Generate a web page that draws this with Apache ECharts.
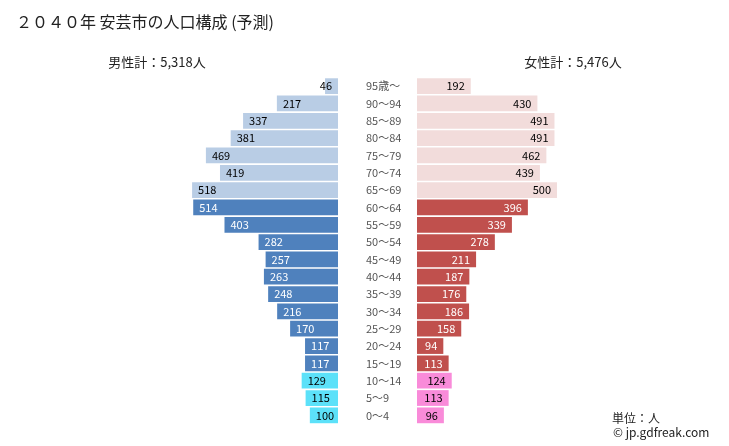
<!DOCTYPE html>
<html><head><meta charset="utf-8">
<script src="https://cdn.jsdelivr.net/npm/echarts@6/dist/echarts.min.js"></script>
<style>html,body{margin:0;padding:0;background:#fff}#c{width:729px;height:446px}</style>
</head><body><div id="c"></div>
<script>
const ages = ["95歳～","90～94","85～89","80～84","75～79","70～74","65～69","60～64","55～59","50～54","45～49","40～44","35～39","30～34","25～29","20～24","15～19","10～14","5～9","0～4"];
const male = [46,217,337,381,469,419,518,514,403,282,257,263,248,216,170,117,117,129,115,100];
const female = [192,430,491,491,462,439,500,396,339,278,211,187,176,186,158,94,113,124,113,96];
const maleColors = {old:"#b9cde5", work:"#4f81bd", young:"#5ce1f9"};
const femaleColors = {old:"#f2dcdb", work:"#c0504d", young:"#f98bd9"};
const labelColors = {old:"#000", work:"#fff", young:"#000"};
function group(i){ return i < 7 ? "old" : (i < 17 ? "work" : "young"); }
const FONT = "'Noto Sans CJK JP','Noto Sans',sans-serif";

const maleData = male.map((v,i)=>({value:v,
  itemStyle:{color:maleColors[group(i)]},
  label:{color:labelColors[group(i)], position: v < 60 ? 'insideRight' : 'insideLeft'}}));
const femaleData = female.map((v,i)=>({value:v,
  itemStyle:{color:femaleColors[group(i)]},
  label:{color:labelColors[group(i)]}}));

const chart = echarts.init(document.getElementById('c'));
chart.setOption({
  animation:false,
  title:{text:"２０４０年 安芸市の人口構成 (予測)", left:11, top:9,
    textStyle:{fontSize:16, fontWeight:'normal', color:'#222', fontFamily:FONT}},
  graphic:[
    {type:'text', style:{text:"男性計：5,318人", x:157, y:62, align:'center', verticalAlign:'middle', font:"13px "+FONT, fill:'#222'}},
    {type:'text', style:{text:"女性計：5,476人", x:573, y:62, align:'center', verticalAlign:'middle', font:"13px "+FONT, fill:'#222'}},
    {type:'text', style:{text:"単位：人", x:612, y:418, align:'left', verticalAlign:'middle', font:"12px "+FONT, fill:'#222'}},
    {type:'text', style:{text:"© jp.gdfreak.com", x:613, y:432, align:'left', verticalAlign:'middle', font:"12px "+FONT, fill:'#222'}}
  ],
  grid:[
    {left:169, width:169, top:77.5, height:346.5},
    {left:417, width:168, top:77.5, height:346.5}
  ],
  xAxis:[
    {gridIndex:0, type:'value', min:0, max:600, inverse:true, show:false},
    {gridIndex:1, type:'value', min:0, max:600, show:false}
  ],
  yAxis:[
    {gridIndex:0, type:'category', data:ages, inverse:true, position:'right',
      axisLine:{show:false}, axisTick:{show:false},
      axisLabel:{align:'left', margin:28, fontSize:11, color:'#555', fontFamily:FONT}},
    {gridIndex:1, type:'category', data:ages, inverse:true, show:false}
  ],
  series:[
    {type:'bar', xAxisIndex:0, yAxisIndex:0, data:maleData, barCategoryGap:'9%',
      label:{show:true, fontSize:11, fontFamily:FONT, distance:6}},
    {type:'bar', xAxisIndex:1, yAxisIndex:1, data:femaleData, barCategoryGap:'9%',
      label:{show:true, position:'insideRight', fontSize:11, fontFamily:FONT, distance:6}}
  ]
});
</script></body></html>
